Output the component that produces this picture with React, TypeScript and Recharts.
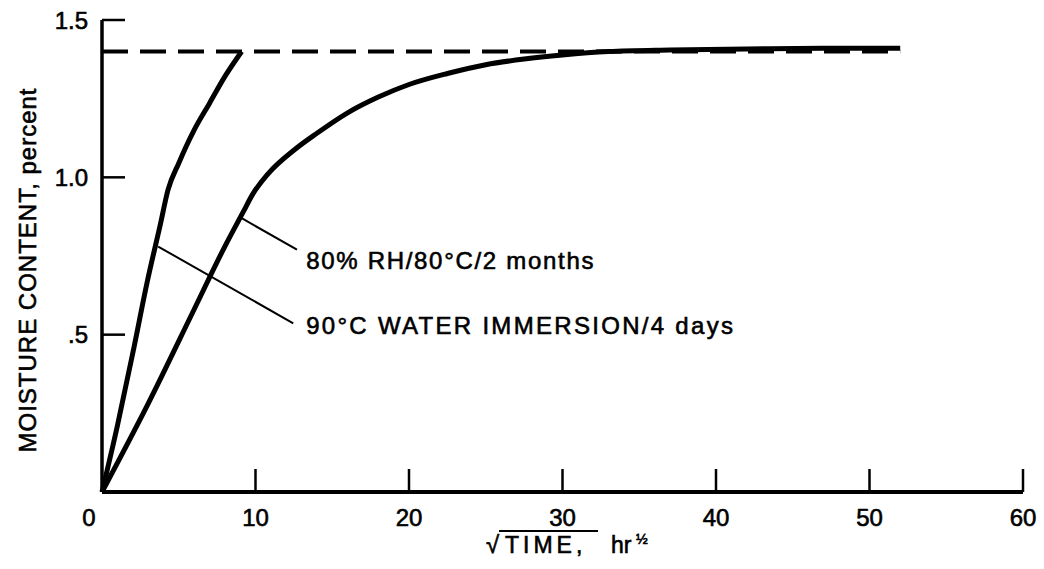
import { LineChart, Line, XAxis, YAxis, ReferenceLine, ReferenceDot } from "recharts";

// 90°C water immersion (fast curve)
const immersionTime = [0, 1, 2, 3, 3.8, 4.3, 5, 6, 7, 8, 9.1];
const immersionMoisture = [0, 0.21, 0.44, 0.68, 0.85, 0.96, 1.045, 1.15, 1.235, 1.32, 1.4];

// 80% RH / 80°C (slow curve)
const humidTime = [0, 3, 6, 8, 9.2, 9.8, 10.8, 12.6, 14, 16, 18, 20, 22.5, 25, 27.5, 30, 33, 37, 42, 47, 52];
const humidMoisture = [
  0, 0.28, 0.58, 0.78, 0.89, 0.945, 1.01, 1.09, 1.14, 1.205, 1.255, 1.295, 1.33, 1.358, 1.376, 1.389, 1.4,
  1.405, 1.408, 1.41, 1.41
];

// equilibrium level (dashed)
const equilibriumTime = [0, 52];
const equilibriumLevel = 1.4;

const xTicks = [0, 10, 20, 30, 40, 50, 60];
const xTickLabels = ["0", "10", "20", "30", "40", "50", "60"];
const yTicks = [0.5, 1.0, 1.5];
const yTickLabels = [".5", "1.0", "1.5"];

const humidLabel = "80% RH/80°C/2 months";
const immersionLabel = "90°C WATER IMMERSION/4 days";
const humidLeader = [{ x: 9.1, y: 0.87 }, { x: 12.7, y: 0.77 }];
const immersionLeader = [{ x: 3.66, y: 0.78 }, { x: 12.46, y: 0.536 }];
const humidLabelAt = { x: 13.3, y: 0.735 };
const immersionLabelAt = { x: 13.3, y: 0.53 };

const FONT = "'Liberation Sans', Arial, sans-serif";
const textInk = { fill: "#000", stroke: "#000", strokeWidth: 0.6 };

const immersionData = immersionTime.map((t, i) => ({ t, m: immersionMoisture[i] }));
const humidData = humidTime.map((t, i) => ({ t, m: humidMoisture[i] }));
const equilibriumData = equilibriumTime.map((t) => ({ t, m: equilibriumLevel }));

function XTick({ x, y, payload }: any) {
  const idx = xTicks.indexOf(payload.value);
  const isZero = payload.value === 0;
  return (
    <g>
      {!isZero && <line x1={x} x2={x} y1={y} y2={y - 23} stroke="#000" strokeWidth={2.5} />}
      <text
        x={x + (isZero ? -13 : 0)}
        y={y + 25}
        textAnchor="middle"
        dominantBaseline="central"
        fontSize={24}
        fontFamily={FONT}
        {...textInk}
      >
        {xTickLabels[idx]}
      </text>
    </g>
  );
}

function YTick({ x, y, payload }: any) {
  const idx = yTicks.indexOf(payload.value);
  return (
    <g>
      <line x1={x} x2={x + 23} y1={y} y2={y} stroke="#000" strokeWidth={2.5} />
      <text x={x - 14} y={y} textAnchor="end" dominantBaseline="central" fontSize={24} fontFamily={FONT} {...textInk}>
        {yTickLabels[idx]}
      </text>
    </g>
  );
}

function XTitle() {
  const y = 553;
  return (
    <g fontFamily={FONT} {...textInk}>
      <text x={486} y={y} fontSize={24}>
        √
      </text>
      <line x1={499} x2={598} y1={531} y2={531} stroke="#000" strokeWidth={2} />
      <text x={505} y={y} fontSize={23} letterSpacing={4}>
        TIME,
      </text>
      <text x={611} y={y} fontSize={23}>
        hr
      </text>
      <text x={636} y={y - 9} fontSize={14}>
        ½
      </text>
    </g>
  );
}

function YTitle() {
  const cx = 27;
  const cy = 270;
  return (
    <text
      x={cx}
      y={cy}
      transform={`rotate(-90, ${cx}, ${cy})`}
      textAnchor="middle"
      dominantBaseline="central"
      fontSize={24}
      letterSpacing={1}
      fontFamily={FONT}
      {...textInk}
    >
      MOISTURE CONTENT, percent
    </text>
  );
}

function labelShape(text: string, spacing: number) {
  return (props: any) => (
    <text
      x={props.cx}
      y={props.cy}
      dominantBaseline="central"
      fontSize={24}
      letterSpacing={spacing}
      fontFamily={FONT}
      {...textInk}
    >
      {text}
    </text>
  );
}

export default function App() {
  return (
    <div style={{ position: "absolute", left: 0, top: 0, width: 1044, height: 569, background: "#fff" }}>
      <LineChart width={1044} height={569} margin={{ top: 20, right: 21, bottom: 17, left: 42 }}>
        <XAxis
          type="number"
          dataKey="t"
          domain={[0, 60]}
          ticks={xTicks}
          interval={0}
          height={60}
          tickSize={0}
          tickMargin={0}
          tick={<XTick />}
          tickLine={false}
          axisLine={{ stroke: "#000", strokeWidth: 4 }}
          label={{ content: () => <XTitle /> }}
        />
        <YAxis
          type="number"
          domain={[0, 1.5]}
          ticks={yTicks}
          interval={0}
          width={60}
          tickSize={0}
          tickMargin={0}
          tick={<YTick />}
          tickLine={false}
          axisLine={{ stroke: "#000", strokeWidth: 3.5 }}
          label={{ content: () => <YTitle /> }}
        />
        <Line
          data={equilibriumData}
          dataKey="m"
          type="linear"
          stroke="#000"
          strokeWidth={4}
          strokeDasharray="26 12"
          dot={false}
          activeDot={false}
          isAnimationActive={false}
        />
        <Line
          data={immersionData}
          dataKey="m"
          type="monotone"
          stroke="#000"
          strokeWidth={5}
          dot={false}
          activeDot={false}
          isAnimationActive={false}
        />
        <Line
          data={humidData}
          dataKey="m"
          type="monotone"
          stroke="#000"
          strokeWidth={5}
          dot={false}
          activeDot={false}
          isAnimationActive={false}
        />
        <ReferenceLine segment={humidLeader} stroke="#000" strokeWidth={2} />
        <ReferenceLine segment={immersionLeader} stroke="#000" strokeWidth={2} />
        <ReferenceDot x={humidLabelAt.x} y={humidLabelAt.y} r={1} shape={labelShape(humidLabel, 1.7)} />
        <ReferenceDot x={immersionLabelAt.x} y={immersionLabelAt.y} r={1} shape={labelShape(immersionLabel, 2.3)} />
      </LineChart>
    </div>
  );
}
